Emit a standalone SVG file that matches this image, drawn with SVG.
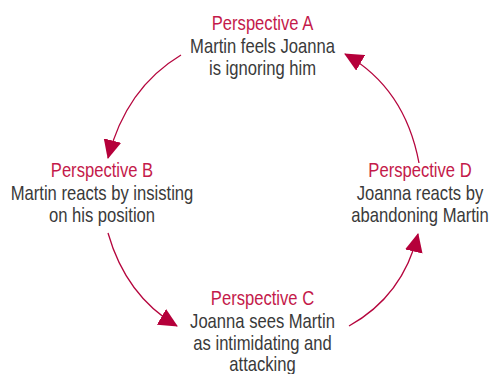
<svg xmlns="http://www.w3.org/2000/svg" width="491" height="374" viewBox="0 0 491 374">
<style>
text{font-family:"Liberation Sans",Arial,sans-serif;font-size:20.5px;text-anchor:middle}
.t{fill:#c41a4a}
.b{fill:#3a3a3a}
.c{fill:none;stroke:#b5053d;stroke-width:1.3}
</style>
<defs>
<marker id="ah" markerWidth="20" markerHeight="18" refX="18" refY="9" orient="auto" markerUnits="userSpaceOnUse">
<path d="M0,0 L19,9 L0,18 Z" fill="#b5003a"/>
</marker>
</defs>
<rect width="491" height="374" fill="#fff"/>
<g id="connectors">
<path class="c" d="M181,55 Q126,88 108,158" marker-end="url(#ah)"/>
<path class="c" d="M108,233 Q126,296 177,326" marker-end="url(#ah)"/>
<path class="c" d="M349,326 Q403,296 418,234" marker-end="url(#ah)"/>
<path class="c" d="M419,163 Q405,88 345,54" marker-end="url(#ah)"/>
</g>
<g id="nodeA" transform="translate(262.5,0) scale(0.81,1)">
<text class="t" x="0" y="30">Perspective A</text>
<text class="b" x="0" y="53">Martin feels Joanna</text>
<text class="b" x="0" y="75">is ignoring him</text>
</g>
<g id="nodeB" transform="translate(102,0) scale(0.81,1)">
<text class="t" x="0" y="177">Perspective B</text>
<text class="b" x="0" y="200">Martin reacts by insisting</text>
<text class="b" x="0" y="222">on his position</text>
</g>
<g id="nodeC" transform="translate(262.5,0) scale(0.81,1)">
<text class="t" x="0" y="305">Perspective C</text>
<text class="b" x="0" y="328">Joanna sees Martin</text>
<text class="b" x="0" y="350">as intimidating and</text>
<text class="b" x="0" y="371">attacking</text>
</g>
<g id="nodeD" transform="translate(420,0) scale(0.81,1)">
<text class="t" x="0" y="177">Perspective D</text>
<text class="b" x="0" y="200">Joanna reacts by</text>
<text class="b" x="0" y="222">abandoning Martin</text>
</g>
</svg>
